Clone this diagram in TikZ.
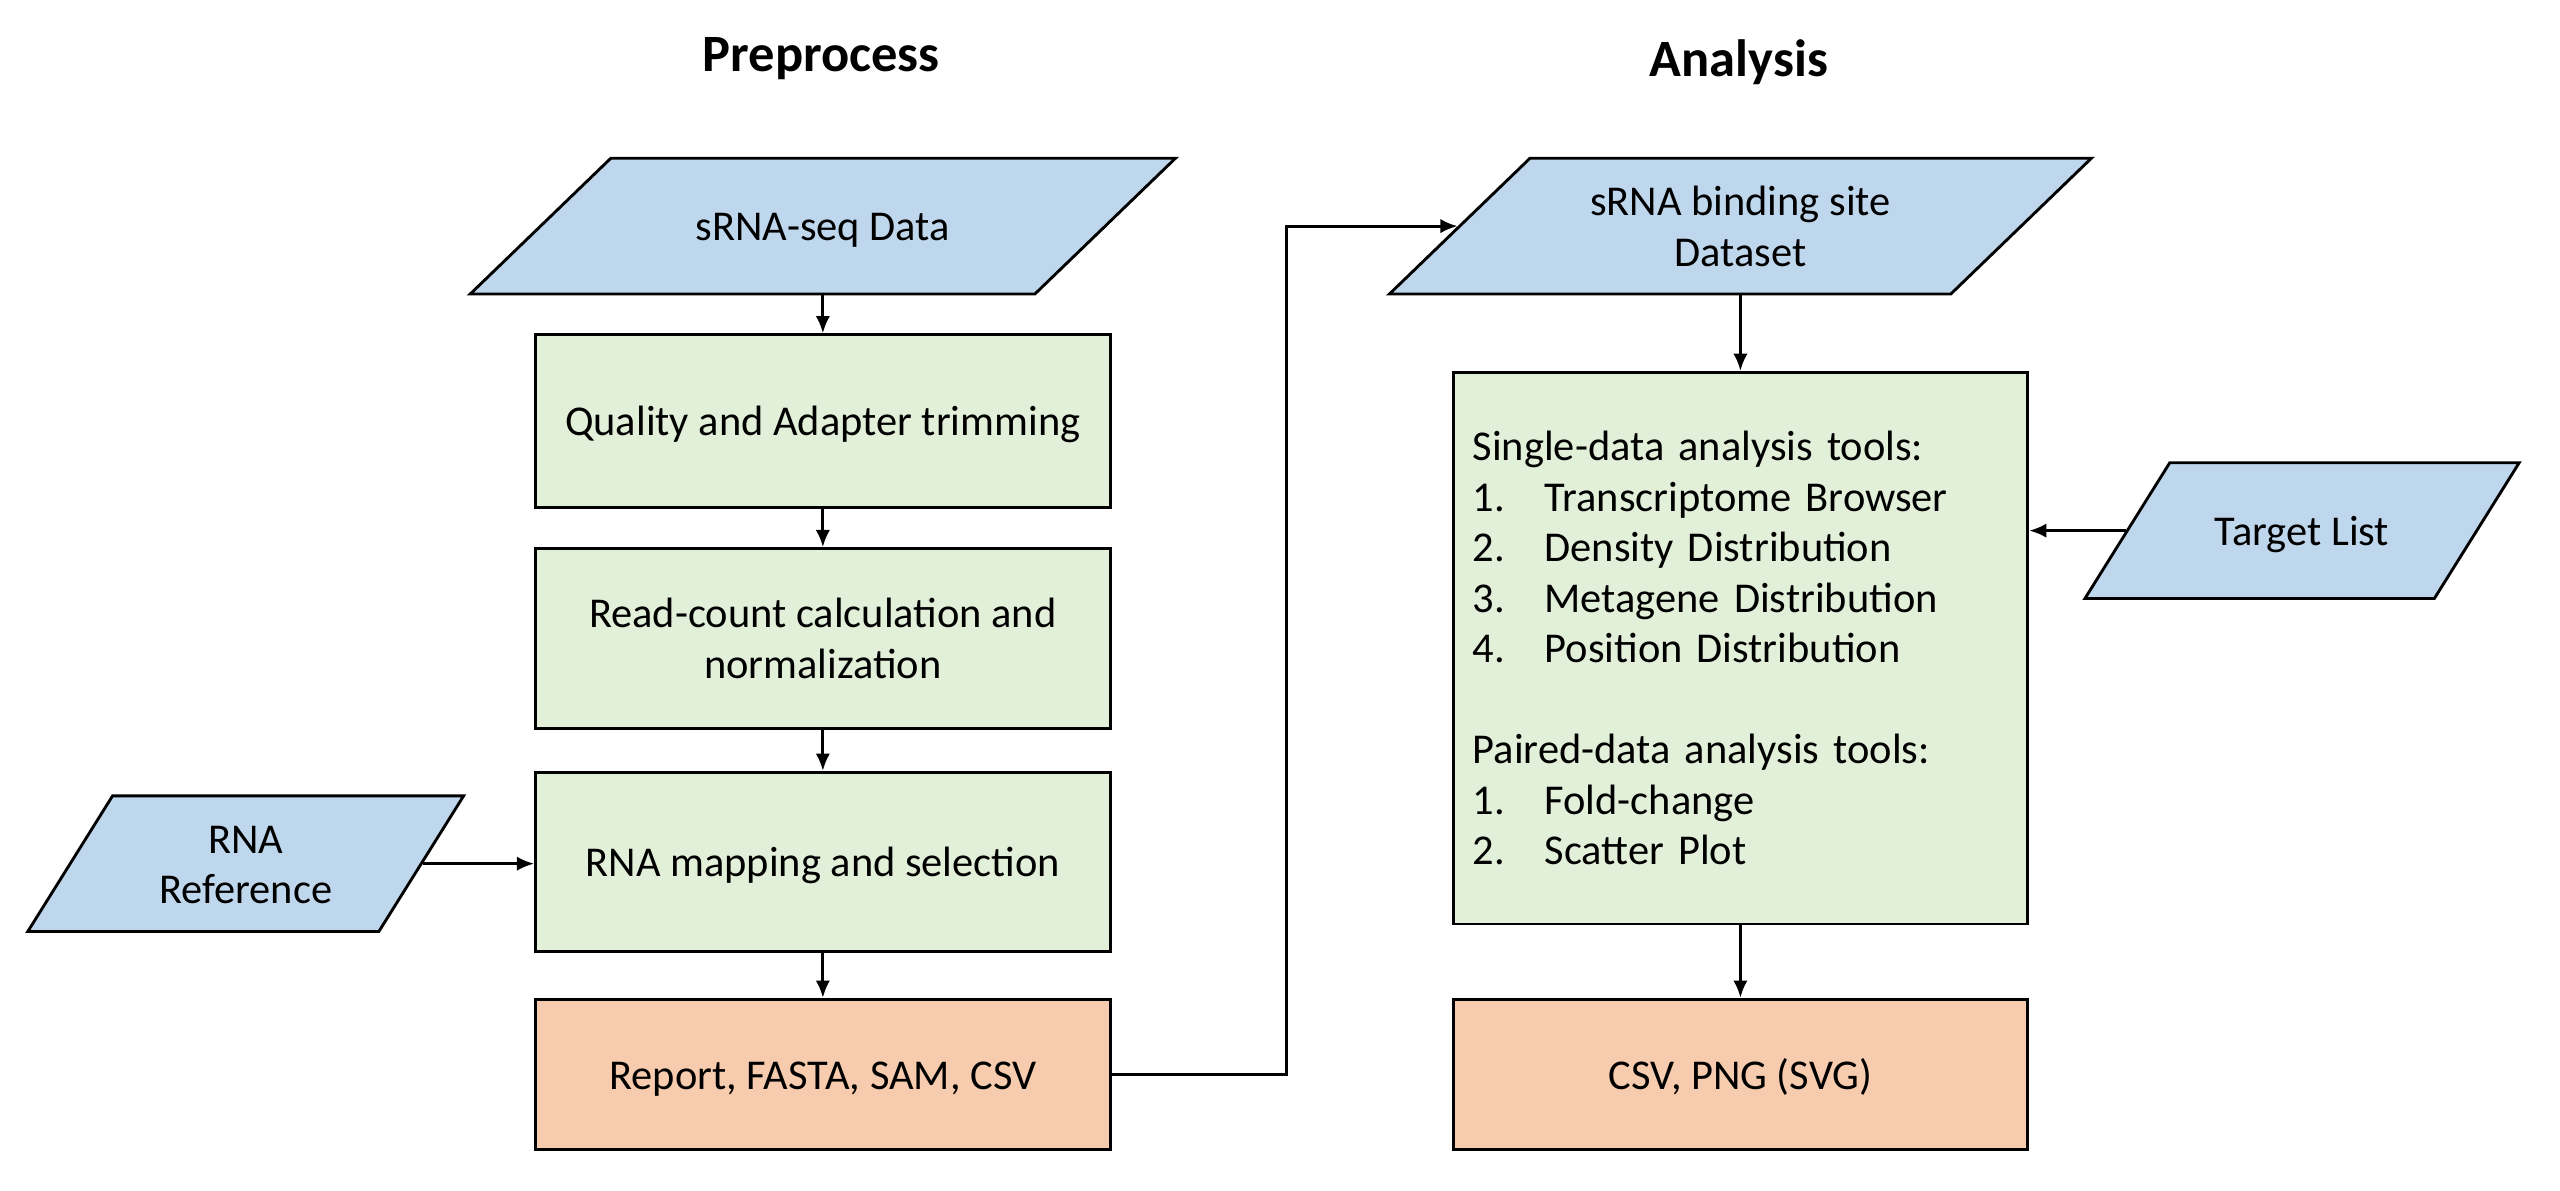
\documentclass[tikz,border=0pt]{standalone}
\usepackage{fontspec}
\setmainfont{Carlito}
\usetikzlibrary{positioning,arrows.meta,shapes.geometric}
\definecolor{inblue}{HTML}{BFD7EC}
\definecolor{stepgreen}{HTML}{E2EFD9}
\definecolor{outorange}{HTML}{F7CBAD}
\tikzset{
  txt/.style={font=\fontsize{14.8}{17.6}\selectfont},
  dataio/.style={txt, trapezium, trapezium stretches body, draw=black, line width=1pt,
    fill=inblue, align=center, inner xsep=2pt, text depth=2.1pt},
  oneline/.style={text height=12.4pt, inner ysep=16.4pt},
  twoline/.style={text height=30pt, inner ysep=7.6pt},
  basebox/.style={txt, rectangle, draw=black, line width=1pt, fill=stepgreen,
    minimum width=7.04cm, align=center},
  procbox/.style={basebox, text height=12.4pt, text depth=2.1pt},
  outbox/.style={procbox, fill=outorange, minimum height=1.84cm},
  flow/.style={-{Latex[length=6pt,width=5pt]}, line width=1pt},
  heading/.style={font=\fontsize{18.3}{22}\selectfont\bfseries}
}
\newcommand{\tooline}[2]{\makebox[0.88cm][l]{#1}#2}

\begin{document}
\begin{tikzpicture}[x=0.02cm, y=-0.02cm]
  \useasboundingbox (0,0) rectangle (1568,729);

  % column titles
  \node[heading] (hpre) at (503,36) {Preprocess};
  \node[heading] (hana) at (1065,38) {Analysis};

  % preprocess column
  \node[dataio, oneline, minimum width=8.64cm,
        trapezium left angle=44, trapezium right angle=136] (seq) at (504,138.5) {sRNA-seq Data};
  \node[procbox, minimum height=2.12cm] (trim) at (504,258) {Quality and Adapter trimming};
  \node[procbox, minimum height=2.2cm, text height=30pt] (norm) at (504,391) {Read-count calculation and\\normalization};
  \node[procbox, minimum height=2.2cm] (map) at (504,528) {RNA mapping and selection};
  \node[outbox] (rep) at (504,658) {Report, FASTA, SAM, CSV};
  \node[dataio, twoline, minimum width=5.34cm,
        trapezium left angle=58, trapezium right angle=122] (ref) at (150.5,529) {RNA\\Reference};

  % analysis column
  \node[dataio, twoline, minimum width=8.6cm,
        trapezium left angle=44, trapezium right angle=136] (site) at (1066,138.5) {sRNA binding site\\Dataset};
  \node[basebox, minimum height=6.76cm, text width=6.56cm, inner xsep=0.24cm, align=left] (tools) at (1066,397)
    {Single-data analysis tools:\\
     \tooline{1.}{Transcriptome Browser}\\
     \tooline{2.}{Density Distribution}\\
     \tooline{3.}{Metagene Distribution}\\
     \tooline{4.}{Position Distribution}\\[17.6pt]
     Paired-data analysis tools:\\
     \tooline{1.}{Fold-change}\\
     \tooline{2.}{Scatter Plot}};
  \node[outbox] (res) at (1066,658) {CSV, PNG (SVG)};
  \node[dataio, oneline, minimum width=5.32cm,
        trapezium left angle=58, trapezium right angle=122] (tgt) at (1410,325) {Target List};

  % connectors
  \draw[flow] (seq.bottom side -| trim.north) -- (trim.north);
  \draw[flow] (trim) -- (norm);
  \draw[flow] (norm) -- (map);
  \draw[flow] (map) -- (rep);
  \draw[flow] (ref.right side) -- (ref.right side -| map.west);
  \draw[flow] (rep.east) -- ++(107,0) |- (site.left side);
  \draw[flow] (site.bottom side -| tools.north) -- (tools.north);
  \draw[flow] (tgt.left side) -- (tgt.left side -| tools.east);
  \draw[flow] (tools) -- (res);
\end{tikzpicture}
\end{document}
